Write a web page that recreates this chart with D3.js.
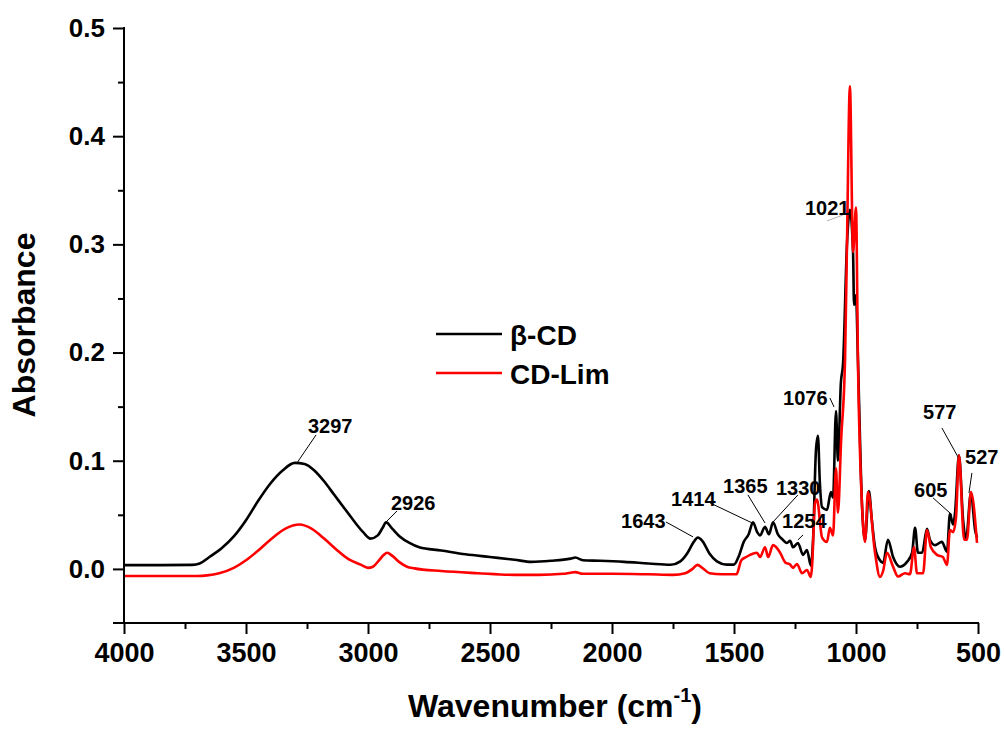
<!DOCTYPE html>
<html>
<head>
<meta charset="utf-8">
<script src="https://cdn.jsdelivr.net/npm/d3@7"></script>
<style>
  html, body { margin: 0; padding: 0; background: #fff; }
  svg { display: block; }
  text { font-family: "Liberation Sans", Arial, sans-serif; font-weight: bold; fill: #000; }
</style>
</head>
<body>
<svg id="chart" width="1004" height="734"></svg>
<script>
// ---------- data ----------
const seriesNames = ["β-CD", "CD-Lim"];

const betaCD_wn = [4000, 3850, 3720, 3690, 3650, 3600, 3550, 3500, 3450, 3400, 3350, 3300, 3260, 3220, 3180, 3140, 3100, 3060, 3020, 2990, 2960, 2940, 2926, 2900, 2870, 2830, 2790, 2700, 2600, 2500, 2400, 2330, 2250, 2170, 2150, 2120, 2050, 1950, 1850, 1760, 1720, 1690, 1665, 1648, 1630, 1600, 1570, 1530, 1500, 1480, 1460, 1440, 1422, 1405, 1393, 1373, 1357, 1340, 1320, 1300, 1283, 1270, 1258, 1238, 1217, 1201, 1185, 1176, 1164, 1156, 1148, 1139, 1119, 1103, 1094, 1082, 1074, 1062, 1053, 1037, 1025, 1012, 1008, 1000, 992, 975, 963, 947, 935, 922, 902, 889, 869, 848, 820, 791, 770, 758, 746, 729, 709, 697, 676, 648, 627, 615, 602, 594, 578, 561, 549, 529, 512, 504];
const betaCD_abs = [0.0035, 0.0035, 0.0037, 0.005, 0.011, 0.019, 0.030, 0.045, 0.063, 0.079, 0.091, 0.098, 0.097, 0.091, 0.081, 0.069, 0.057, 0.045, 0.034, 0.028, 0.031, 0.038, 0.043, 0.037, 0.030, 0.024, 0.020, 0.017, 0.0135, 0.011, 0.0085, 0.0065, 0.0075, 0.0095, 0.0105, 0.008, 0.0075, 0.0065, 0.005, 0.0038, 0.007, 0.015, 0.025, 0.029, 0.026, 0.014, 0.007, 0.004, 0.004, 0.012, 0.025, 0.032, 0.043, 0.034, 0.031, 0.039, 0.032, 0.043, 0.032, 0.027, 0.024, 0.026, 0.020, 0.024, 0.013, 0.0175, 0.003, 0.027, 0.110, 0.123, 0.079, 0.057, 0.0545, 0.071, 0.066, 0.146, 0.100, 0.172, 0.190, 0.300, 0.332, 0.292, 0.244, 0.253, 0.193, 0.057, 0.027, 0.072, 0.045, 0.020, 0.008, 0.0055, 0.027, 0.011, 0.002, 0.0065, 0.015, 0.038, 0.015, 0.015, 0.037, 0.027, 0.022, 0.025, 0.016, 0.051, 0.041, 0.052, 0.105, 0.045, 0.027, 0.070, 0.036, 0.029];

const cdLim_wn = [4000, 3700, 3660, 3610, 3550, 3500, 3450, 3400, 3340, 3280, 3230, 3180, 3130, 3080, 3030, 3000, 2980, 2960, 2935, 2922, 2900, 2870, 2840, 2810, 2700, 2550, 2400, 2300, 2200, 2170, 2150, 2120, 2000, 1850, 1750, 1700, 1670, 1650, 1630, 1600, 1550, 1490, 1470, 1450, 1434, 1406, 1393, 1373, 1360, 1340, 1311, 1290, 1270, 1258, 1242, 1221, 1201, 1185, 1180, 1168, 1160, 1139, 1119, 1107, 1094, 1082, 1074, 1061, 1045, 1037, 1025, 1012, 1000, 992, 975, 963, 951, 922, 902, 889, 873, 848, 828, 799, 779, 762, 750, 725, 709, 693, 668, 644, 627, 615, 602, 590, 578, 557, 545, 529, 504];
const cdLim_abs = [-0.0065, -0.0065, -0.006, -0.004, 0.001, 0.008, 0.017, 0.027, 0.037, 0.041, 0.037, 0.028, 0.018, 0.009, 0.004, 0.001, 0.002, 0.0065, 0.013, 0.015, 0.012, 0.006, 0.002, 0.0005, -0.002, -0.004, -0.0055, -0.0055, -0.0045, -0.0035, -0.003, -0.0045, -0.0045, -0.005, -0.0055, -0.004, 0.000, 0.0037, 0.001, -0.004, -0.005, -0.005, 0.008, 0.011, 0.013, 0.015, 0.011, 0.020, 0.011, 0.022, 0.015, 0.006, 0.004, 0.001, 0.0046, -0.004, -0.001, -0.0074, 0.003, 0.061, 0.064, 0.029, 0.025, 0.038, 0.031, 0.093, 0.052, 0.119, 0.193, 0.300, 0.446, 0.293, 0.334, 0.193, 0.057, 0.025, 0.071, 0.015, -0.0074, -0.002, 0.015, 0.002, -0.007, -0.004, -0.005, 0.020, -0.004, -0.004, 0.036, 0.020, 0.013, 0.011, 0.0037, 0.036, 0.034, 0.048, 0.105, 0.027, 0.027, 0.071, 0.024];

const xTicks = [4000, 3500, 3000, 2500, 2000, 1500, 1000, 500];
const xMinorTicks = [3750, 3250, 2750, 2250, 1750, 1250, 750];
const yTicks = [0.0, 0.1, 0.2, 0.3, 0.4, 0.5];
const yMinorTicks = [0.05, 0.15, 0.25, 0.35, 0.45];

// peak annotations: label, label anchor (wn, abs), leader start (wn, abs), leader end (wn, abs)
const annoLabels = ["3297", "2926", "1643", "1414", "1365", "1330", "1254", "1076", "1021", "577", "527", "605"];
const annoText   = [[3246, 0.1257], [2906, 0.0545], [1963, 0.0379], [1758, 0.0582], [1545, 0.0702], [1328, 0.0684], [1303, 0.0379], [1299, 0.1516], [1209, 0.3272], [725, 0.1386], [553, 0.0970], [762, 0.0665]];
const annoFrom   = [[3213, 0.1238], [2881, 0.0536], [1779, 0.0434], [1598, 0.0610], [1443, 0.0684], [1238, 0.0684], [1217, 0.0314], [1107, 0.1580], [1119, 0.3216], [648, 0.1303], [525, 0.0887], [684, 0.0656]];
const annoTo     = [[3291, 0.0980], [2926, 0.0434], [1668, 0.0296], [1426, 0.0425], [1373, 0.0425], [1340, 0.0434], [1238, 0.0268], [1090, 0.1497], [1053, 0.3272], [582, 0.1035], [537, 0.0702], [606, 0.0499]];

// ---------- chart ----------
const svg = d3.select("#chart");
const L = 124, R = 978, T = 28, B = 623;

const x = d3.scaleLinear().domain([4000, 500]).range([L, R]);
const y = d3.scaleLinear().domain([-0.05, 0.5]).range([B, T]);

const seriesData = [
  { name: seriesNames[0], color: "#000000", pts: betaCD_wn.map((w, i) => [w, betaCD_abs[i]]) },
  { name: seriesNames[1], color: "#ff0000", pts: cdLim_wn.map((w, i) => [w, cdLim_abs[i]]) }
];

const line = d3.line()
  .x(d => x(d[0]))
  .y(d => y(d[1]))
  .curve(d3.curveMonotoneX);

// draw black first, red on top
seriesData.forEach(s => {
  svg.append("path")
    .datum(s.pts)
    .attr("fill", "none")
    .attr("stroke", s.color)
    .attr("stroke-width", 2.6)
    .attr("stroke-linejoin", "round")
    .attr("d", line);
});

// axes
function styleAxis(g) {
  g.selectAll("path.domain").remove();
  g.selectAll(".tick line").attr("stroke", "#000").attr("stroke-width", 2);
}

const gx = svg.append("g").attr("transform", `translate(0,${B})`)
  .call(d3.axisBottom(x).tickValues(xTicks).tickSize(11).tickPadding(9).tickFormat(d3.format("d")));
styleAxis(gx);
gx.selectAll("text").attr("font-size", 27).attr("font-family", "Liberation Sans, Arial, sans-serif").attr("font-weight", "bold");

const gxm = svg.append("g").attr("transform", `translate(0,${B})`)
  .call(d3.axisBottom(x).tickValues(xMinorTicks).tickSize(6).tickFormat(""));
styleAxis(gxm);

const gy = svg.append("g").attr("transform", `translate(${L},0)`)
  .call(d3.axisLeft(y).tickValues(yTicks).tickSize(11).tickPadding(8).tickFormat(d3.format(".1f")));
styleAxis(gy);
gy.selectAll("text").attr("font-size", 26).attr("font-family", "Liberation Sans, Arial, sans-serif").attr("font-weight", "bold");

const gym = svg.append("g").attr("transform", `translate(${L},0)`)
  .call(d3.axisLeft(y).tickValues(yMinorTicks).tickSize(6).tickFormat(""));
styleAxis(gym);

// axis lines
svg.append("line").attr("x1", L).attr("x2", L).attr("y1", T - 1).attr("y2", B + 1)
  .attr("stroke", "#000").attr("stroke-width", 2);
svg.append("line").attr("x1", L - 11).attr("x2", R + 1).attr("y1", B).attr("y2", B)
  .attr("stroke", "#000").attr("stroke-width", 2);

// axis titles
const xt = svg.append("text").attr("x", 555).attr("y", 717).attr("text-anchor", "middle").attr("font-size", 32);
xt.append("tspan").text("Wavenumber (cm");
xt.append("tspan").attr("font-size", 20).attr("dy", -15).text("-1");
xt.append("tspan").attr("dy", 15).text(")");

svg.append("text")
  .attr("transform", "translate(35,325) rotate(-90)")
  .attr("text-anchor", "middle")
  .attr("font-size", 32)
  .text("Absorbance");

// legend
const legend = svg.append("g").attr("transform", "translate(436,334)");
seriesData.forEach((s, i) => {
  const gy0 = i * 39;
  legend.append("line").attr("x1", 0).attr("x2", 66).attr("y1", gy0).attr("y2", gy0)
    .attr("stroke", s.color).attr("stroke-width", 2.6);
  legend.append("text").attr("x", 74).attr("y", gy0 + 11).attr("font-size", 28).text(s.name);
});

// annotations
annoLabels.forEach((lab, i) => {
  svg.append("line")
    .attr("x1", x(annoFrom[i][0])).attr("y1", y(annoFrom[i][1]))
    .attr("x2", x(annoTo[i][0])).attr("y2", y(annoTo[i][1]))
    .attr("stroke", lab === "1021" ? "#b0b0b0" : "#000")
    .attr("stroke-width", 1);
  svg.append("text")
    .attr("x", x(annoText[i][0])).attr("y", y(annoText[i][1]))
    .attr("font-size", 20)
    .text(lab);
});
</script>
</body>
</html>
